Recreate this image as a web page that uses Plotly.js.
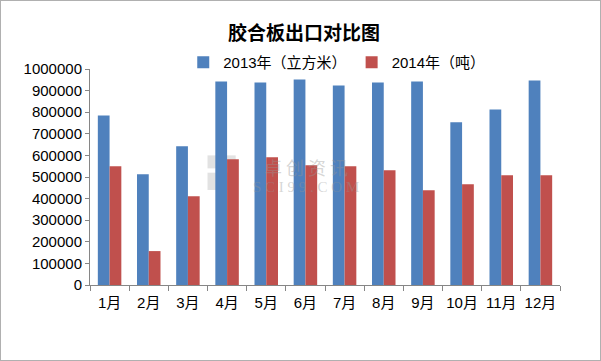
<!DOCTYPE html>
<html>
<head>
<meta charset="utf-8">
<script src="https://cdn.plot.ly/plotly-3.0.1.min.js"></script>
<style>
html,body{margin:0;padding:0;background:#fff;}
#chart{width:599px;height:359px;border:1px solid #b0b0b0;}
</style>
</head>
<body>
<div id="chart"></div>
<script>
const months = ['1月','2月','3月','4月','5月','6月','7月','8月','9月','10月','11月','12月'];
const v2013 = [785000, 513000, 642000, 942000, 938000, 951000, 924000, 938000, 942000, 753000, 813000, 947000];
const v2014 = [550000, 157000, 411000, 582000, 591000, 554000, 550000, 531000, 439000, 466000, 508000, 508000];
const name2013 = '2013年（立方米）';
const name2014 = '2014年（吨）';

const font = '"Liberation Sans", "Noto Sans CJK SC", sans-serif';

const data = [
  {type:'bar', x: months, y: v2013, name: name2013, marker:{color:'#4F81BD'}},
  {type:'bar', x: months, y: v2014, name: name2014, marker:{color:'#C0504D'}}
];

const layout = {
  width: 599, height: 359,
  margin: {l: 89, r: 40, t: 68, b: 75},
  paper_bgcolor:'#fff', plot_bgcolor:'#fff',
  font: {family: font, size: 15, color:'#000'},
  title: {text: '<b>胶合板出口对比图</b>', x: 0.506, xanchor:'center', y: 0.91, yanchor:'middle',
          font: {family: '"Noto Sans CJK SC", sans-serif', size: 19, color:'#000'}},
  barmode: 'group',
  bargap: 0.4,
  bargroupgap: 0,
  showlegend: true,
  legend: {orientation:'h', x: 0.525, xanchor:'center', y: 1.03, yanchor:'middle',
           font:{family: font, size: 15}, itemwidth: 30, traceorder:'normal', bgcolor:'rgba(0,0,0,0)'},
  xaxis: {type:'category', showline: true, linecolor:'#868686', linewidth:1,
          ticks:'outside', tickson:'boundaries', ticklen: 5, tickcolor:'#868686', tickangle: 0,
          ticklabelstandoff: 4,
          tickfont:{family: font, size: 15}, showgrid:false, zeroline:false, fixedrange:true},
  yaxis: {range:[0,1000000], dtick:100000, tick0:0, tickformat:'d', showline:true, linecolor:'#868686',
          ticks:'outside', ticklen:4, tickcolor:'#868686', showgrid:false, zeroline:false,
          tickfont:{family: font, size: 15}, fixedrange:true},
  shapes: [
    {type:'rect', xref:'paper', yref:'paper', x0:0.25, x1:0.31, y0:0.54, y1:0.60,
     fillcolor:'rgba(190,190,190,0.45)', line:{width:0}, layer:'below'},
    {type:'rect', xref:'paper', yref:'paper', x0:0.25, x1:0.31, y0:0.44, y1:0.52,
     fillcolor:'rgba(190,190,190,0.45)', line:{width:0}, layer:'below'}
  ],
  annotations: [
    {xref:'paper', yref:'paper', x:0.46, y:0.545, text:'卓 创 资 讯', showarrow:false,
     font:{family:'"Noto Sans CJK SC", sans-serif', size:18, color:'rgba(150,150,150,0.4)'}},
    {xref:'paper', yref:'paper', x:0.46, y:0.455, text:'S C I 9 9 . C O M', showarrow:false,
     font:{family:'"Liberation Serif", serif', size:15, color:'rgba(150,150,150,0.4)'}}
  ]
};

Plotly.newPlot('chart', data, layout, {displayModeBar:false, staticPlot:true});
</script>
</body>
</html>
